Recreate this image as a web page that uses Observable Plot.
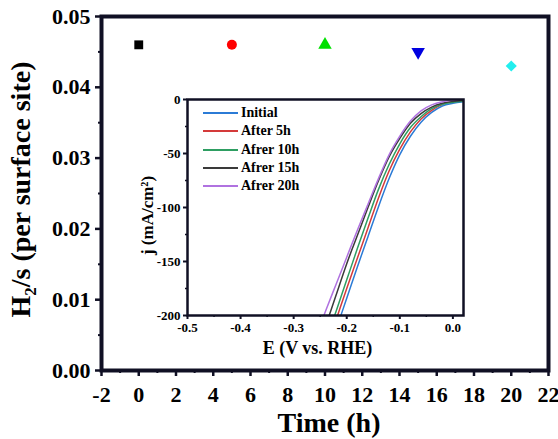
<!DOCTYPE html>
<html>
<head>
<meta charset="utf-8">
<script src="https://cdn.jsdelivr.net/npm/d3@7"></script>
<script src="https://cdn.jsdelivr.net/npm/@observablehq/plot@0.6"></script>
<style>
  html, body { margin: 0; padding: 0; background: #fff; }
  #wrap { position: relative; width: 558px; height: 439px; overflow: hidden; }
  #wrap > svg { position: absolute; left: 0; top: 0; }
  #legend { position: absolute; left: 203px; top: 104px; font-family: "Liberation Serif", serif; font-weight: bold; font-size: 14px; color: #000; }
  .row { display: flex; align-items: center; height: 18.3px; }
  .sw { display: inline-block; width: 35px; height: 0; border-top: 2px solid; margin-right: 3px; }
</style>
</head>
<body>
<div id="wrap"><div id="legend"></div></div>
<script>
// ---- Main chart data ----
const times = [0, 5, 10, 15, 20];
const rates = [0.046, 0.046, 0.046, 0.045, 0.043];
const markerColors = ["#000000", "#ff0000", "#00e000", "#0000e0", "#22eeee"];
const xDomain = [-2, 22];
const yDomain = [0, 0.05];
const xTicks = [-2, 0, 2, 4, 6, 8, 10, 12, 14, 16, 18, 20, 22];
const xMinorTicks = [-1, 1, 3, 5, 7, 9, 11, 13, 15, 17, 19, 21];
const yTicks = [0, 0.01, 0.02, 0.03, 0.04, 0.05];
const yMinorTicks = [0.005, 0.015, 0.025, 0.035, 0.045];
const xLabel = "Time (h)";
const yLabel = "H\u2082/s (per surface site)";

// ---- Inset data ----
const potentials = [-0.26, -0.24, -0.22, -0.20, -0.18, -0.16, -0.14, -0.12, -0.10, -0.08, -0.06, -0.04, -0.02, 0.00, 0.02];
const jInitial = [-270, -242, -213, -184, -155, -127, -99, -73, -51, -34, -21, -12, -6, -3.5, -2];
const jAfter5h = [-262, -233, -204, -175, -147, -119, -91, -66, -46, -30, -18, -10, -4.5, -1.5, 0];
const jAfter10h = [-254, -225, -196, -167, -138, -110, -83, -60, -41, -26, -16, -8.5, -4.5, -2.5, -1.5];
const jAfter15h = [-239, -210, -181, -152, -126, -100, -75, -53, -36, -22, -13, -7, -3.5, -1.8, -0.8];
const jAfter20h = [-222, -196, -171, -146, -121, -97, -73, -51, -34, -20, -10.5, -5, -2, -0.5, 0.5];
const seriesNames = ["Initial", "After 5h", "Afrer 10h", "Afrer 15h", "Afrer 20h"];
const seriesColors = ["#2b7bd6", "#d43a3a", "#2e9e62", "#3a3a3a", "#b072e0"];
const insetXDomain = [-0.5, 0.02];
const insetYDomain = [-200, 0];
const insetXTicks = [-0.5, -0.4, -0.3, -0.2, -0.1, 0.0];
const insetXMinor = [-0.45, -0.35, -0.25, -0.15, -0.05];
const insetYTicks = [-200, -150, -100, -50, 0];
const insetYMinor = [-175, -125, -75, -25];
const insetXLabel = "E (V vs. RHE)";
const insetYLabel = "j (mA/cm\u00B2)";

const sqrt3 = Math.sqrt(3);
const triangleDown = {
  draw(ctx, size) {
    const y = -Math.sqrt(size / (sqrt3 * 3));
    ctx.moveTo(0, -y * 2);
    ctx.lineTo(-sqrt3 * y, y);
    ctx.lineTo(sqrt3 * y, y);
    ctx.closePath();
  }
};
const markerSymbols = ["square", "circle", "triangle", triangleDown, "diamond2"];
const points = times.map((t, i) => ({time: t, rate: rates[i], color: markerColors[i], symbol: markerSymbols[i]}));

const font = "Liberation Serif, Times New Roman, serif";
const ink = "#000000";
const axisColor = "#101024";

const main = Plot.plot({
  width: 558, height: 439,
  marginLeft: 101, marginRight: 10, marginTop: 16, marginBottom: 69,
  style: {fontFamily: font, fontWeight: "bold", fontSize: "22px", background: "transparent", color: axisColor},
  x: {domain: xDomain},
  y: {domain: yDomain},
  marks: [
    Plot.axisX({ticks: xTicks, tickSize: 6, tickPadding: 10, tickFormat: d => String(d), stroke: axisColor, fill: ink, strokeWidth: 2.5, label: null, fontSize: 22}),
    Plot.axisX({ticks: xMinorTicks, tickSize: 3, text: null, stroke: axisColor, strokeWidth: 2, label: null}),
    Plot.axisY({ticks: yTicks, tickSize: 6, tickPadding: 5, tickFormat: d => d.toFixed(2), stroke: axisColor, fill: ink, strokeWidth: 2.5, label: null, fontSize: 22}),
    Plot.axisY({ticks: yMinorTicks, tickSize: 3, text: null, stroke: axisColor, strokeWidth: 2, label: null}),
    Plot.frame({stroke: axisColor, strokeWidth: 4}),
    ...points.map(p => Plot.dot([p], {x: "time", y: "rate", fill: p.color, stroke: "none", symbol: p.symbol, r: 5})),
    Plot.text([xLabel], {text: d => d, frameAnchor: "bottom", textAnchor: "middle", dy: 53, dx: 4, lineAnchor: "middle", fill: ink, fontSize: 28, fontWeight: "bold"}),
    Plot.text([yLabel], {text: d => d, frameAnchor: "left", textAnchor: "middle", rotate: -90, dx: -80, dy: -4, lineAnchor: "middle", fill: ink, fontSize: 28, fontWeight: "bold"})
  ]
});

const curves = [];
seriesNames.forEach((name, k) => {
  const js = [jInitial, jAfter5h, jAfter10h, jAfter15h, jAfter20h][k];
  potentials.forEach((e, i) => curves.push({series: name, E: e, j: js[i]}));
});

const inset = Plot.plot({
  width: 558, height: 439,
  marginLeft: 187, marginRight: 95, marginTop: 99, marginBottom: 124,
  style: {fontFamily: font, fontWeight: "bold", fontSize: "13px", background: "transparent", color: axisColor},
  x: {domain: insetXDomain},
  y: {domain: insetYDomain},
  color: {domain: seriesNames, range: seriesColors},
  marks: [
    Plot.line(curves, {x: "E", y: "j", stroke: "series", strokeWidth: 1.5, curve: "monotone-x", clip: true}),
    Plot.axisX({ticks: insetXTicks, tickSize: 4, tickPadding: 3, tickFormat: d => d.toFixed(1), stroke: axisColor, fill: ink, strokeWidth: 2, label: null, fontSize: 13}),
    Plot.axisX({ticks: insetXMinor, tickSize: 2, text: null, stroke: axisColor, strokeWidth: 1.5, label: null}),
    Plot.axisY({ticks: insetYTicks, tickSize: 4, tickPadding: 3, tickFormat: d => String(d), stroke: axisColor, fill: ink, strokeWidth: 2, label: null, fontSize: 13}),
    Plot.axisY({ticks: insetYMinor, tickSize: 2, text: null, stroke: axisColor, strokeWidth: 1.5, label: null}),
    Plot.frame({stroke: axisColor, strokeWidth: 2.5}),
    Plot.text([insetXLabel], {text: d => d, frameAnchor: "bottom", textAnchor: "middle", dy: 33, dx: -8, lineAnchor: "middle", fill: ink, fontSize: 18, fontWeight: "bold"}),
    Plot.text([insetYLabel], {text: d => d, frameAnchor: "left", textAnchor: "middle", rotate: -90, dx: -40, dy: 8, lineAnchor: "middle", fill: ink, fontSize: 17, fontWeight: "bold"})
  ]
});

const wrap = document.getElementById("wrap");
wrap.insertBefore(main, wrap.firstChild);
wrap.insertBefore(inset, document.getElementById("legend"));

const legend = document.getElementById("legend");
seriesNames.forEach((name, k) => {
  const row = document.createElement("div");
  row.className = "row";
  const sw = document.createElement("span");
  sw.className = "sw";
  sw.style.borderTopColor = seriesColors[k];
  const lab = document.createElement("span");
  lab.textContent = name;
  row.appendChild(sw);
  row.appendChild(lab);
  legend.appendChild(row);
});
</script>
</body>
</html>
